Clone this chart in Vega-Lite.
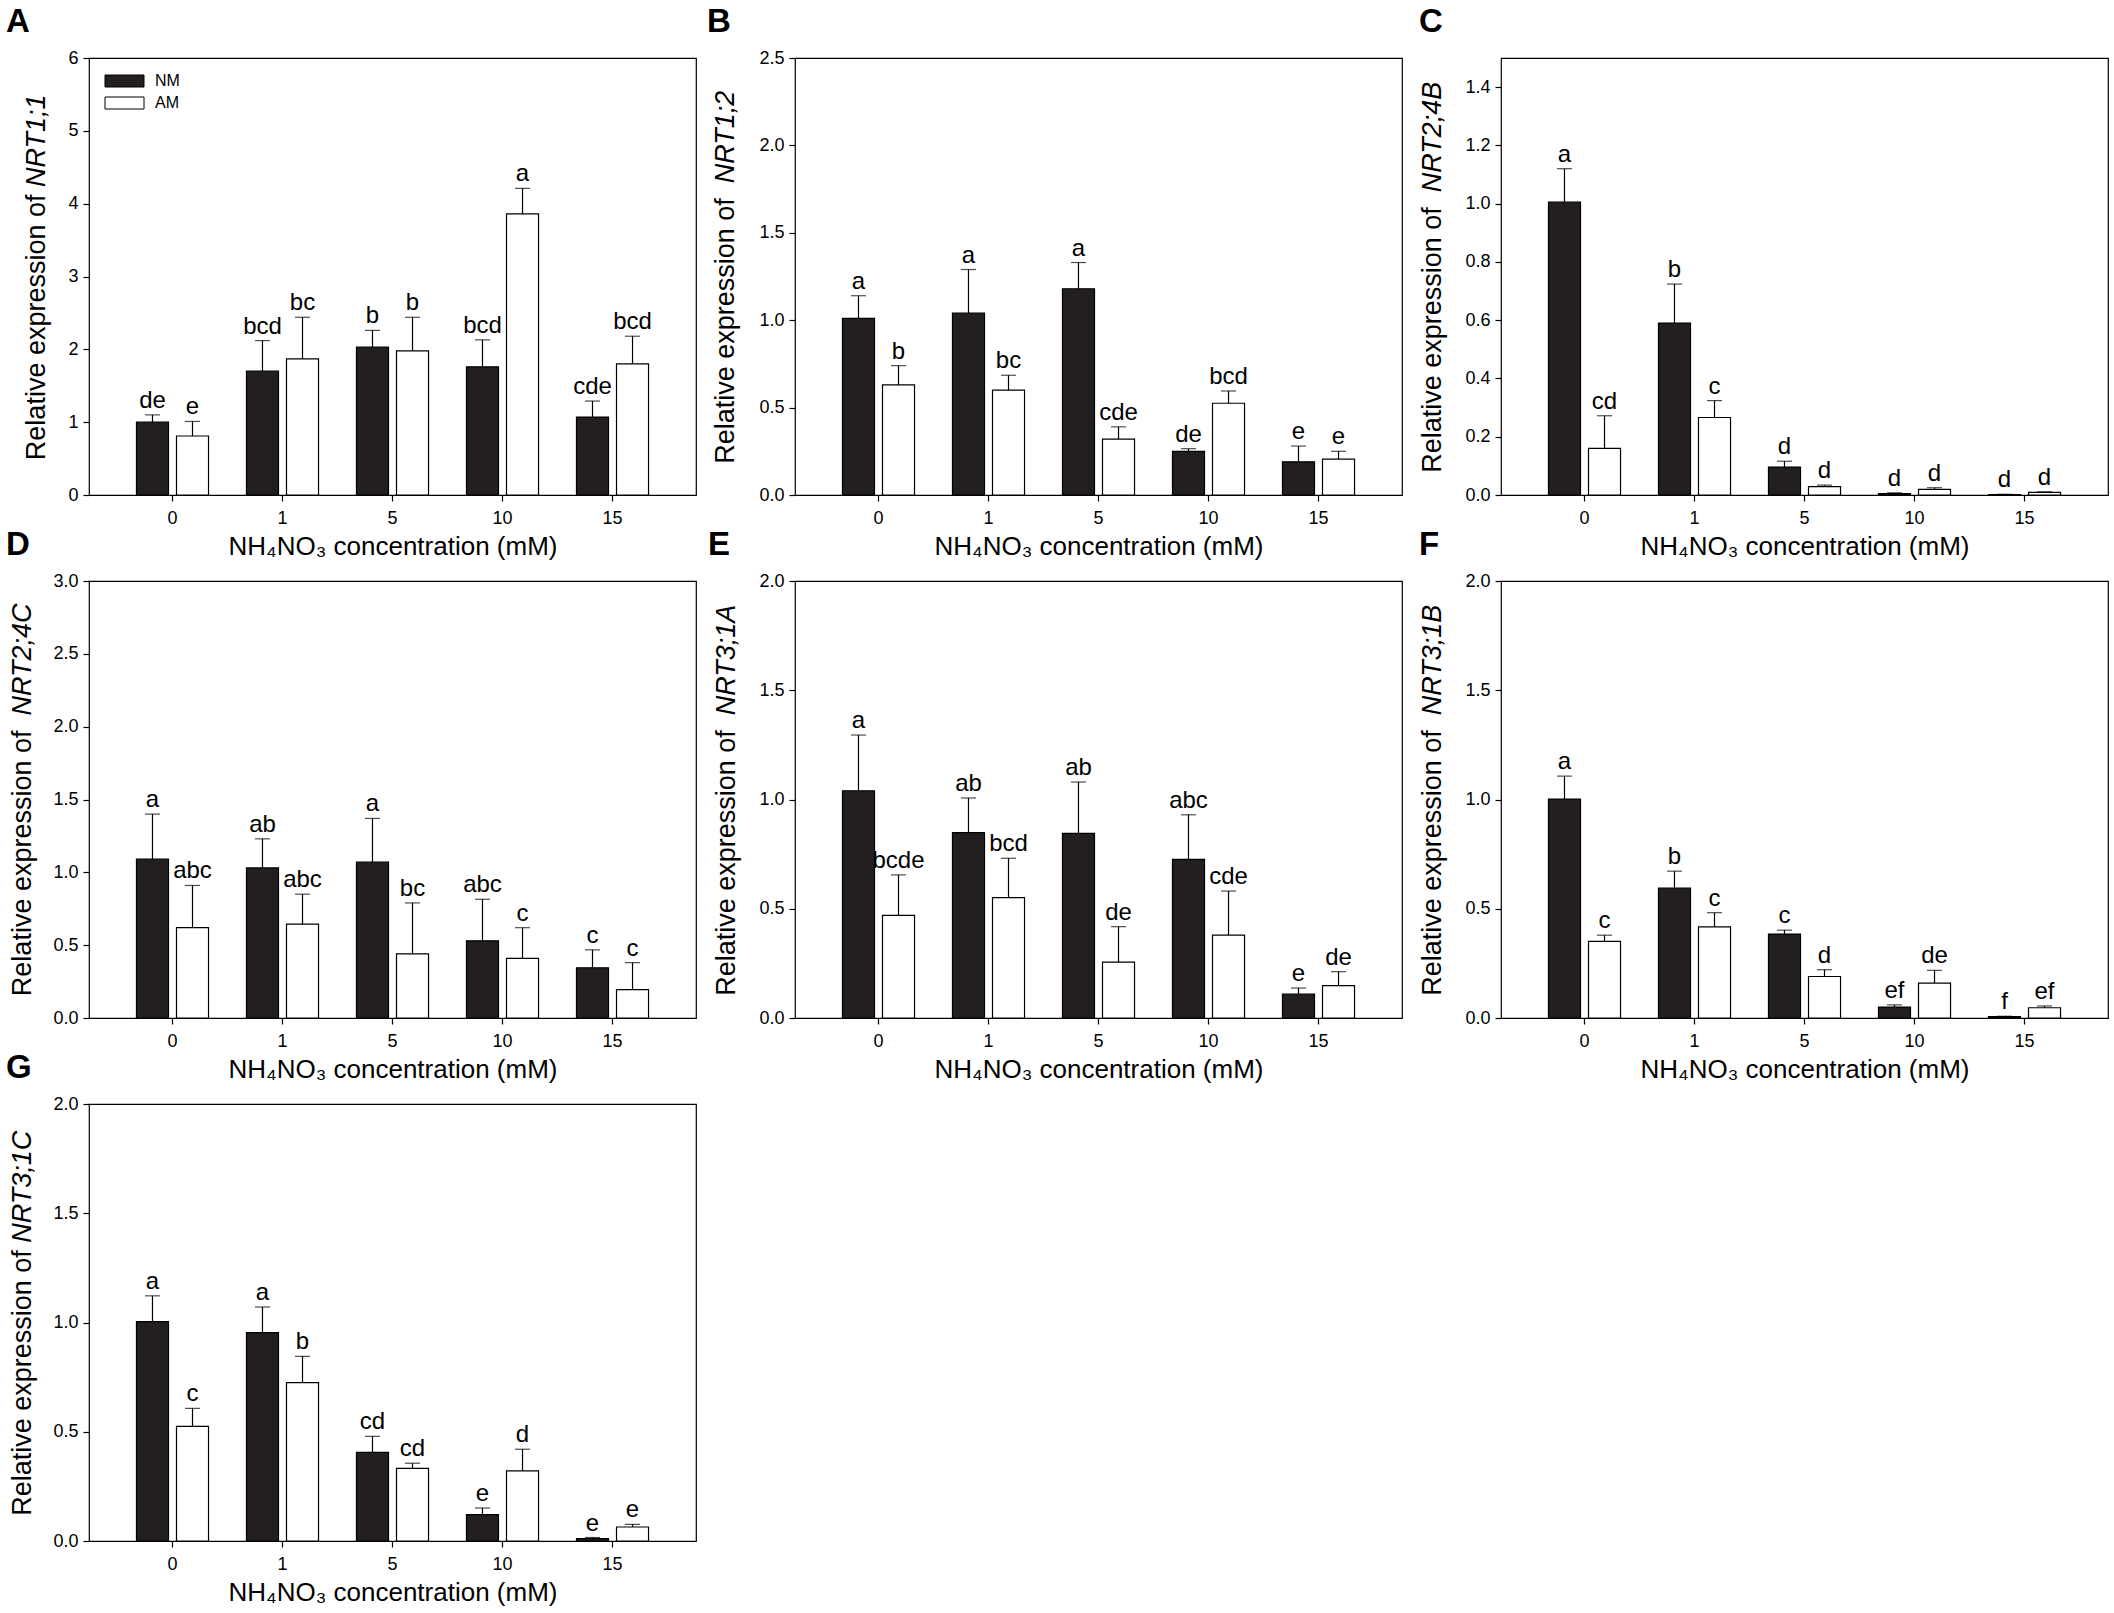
{
  "$schema": "https://vega.github.io/schema/vega-lite/v6.json",
  "background": "white",
  "padding": {"left": 5, "top": 5, "right": 5, "bottom": 5},
  "datasets": {
    "expr": [
      {"panel": "A", "conc": "0", "group": "NM", "value": 1.00, "upper": 1.10, "label": "de"},
      {"panel": "A", "conc": "0", "group": "AM", "value": 0.81, "upper": 1.01, "label": "e"},
      {"panel": "A", "conc": "1", "group": "NM", "value": 1.70, "upper": 2.12, "label": "bcd"},
      {"panel": "A", "conc": "1", "group": "AM", "value": 1.87, "upper": 2.44, "label": "bc"},
      {"panel": "A", "conc": "5", "group": "NM", "value": 2.03, "upper": 2.26, "label": "b"},
      {"panel": "A", "conc": "5", "group": "AM", "value": 1.98, "upper": 2.44, "label": "b"},
      {"panel": "A", "conc": "10", "group": "NM", "value": 1.76, "upper": 2.13, "label": "bcd"},
      {"panel": "A", "conc": "10", "group": "AM", "value": 3.86, "upper": 4.21, "label": "a"},
      {"panel": "A", "conc": "15", "group": "NM", "value": 1.07, "upper": 1.29, "label": "cde"},
      {"panel": "A", "conc": "15", "group": "AM", "value": 1.80, "upper": 2.18, "label": "bcd"},

      {"panel": "B", "conc": "0", "group": "NM", "value": 1.01, "upper": 1.14, "label": "a"},
      {"panel": "B", "conc": "0", "group": "AM", "value": 0.63, "upper": 0.74, "label": "b"},
      {"panel": "B", "conc": "1", "group": "NM", "value": 1.04, "upper": 1.29, "label": "a"},
      {"panel": "B", "conc": "1", "group": "AM", "value": 0.60, "upper": 0.685, "label": "bc"},
      {"panel": "B", "conc": "5", "group": "NM", "value": 1.18, "upper": 1.33, "label": "a"},
      {"panel": "B", "conc": "5", "group": "AM", "value": 0.32, "upper": 0.39, "label": "cde"},
      {"panel": "B", "conc": "10", "group": "NM", "value": 0.25, "upper": 0.265, "label": "de"},
      {"panel": "B", "conc": "10", "group": "AM", "value": 0.525, "upper": 0.595, "label": "bcd"},
      {"panel": "B", "conc": "15", "group": "NM", "value": 0.19, "upper": 0.28, "label": "e"},
      {"panel": "B", "conc": "15", "group": "AM", "value": 0.205, "upper": 0.25, "label": "e"},

      {"panel": "C", "conc": "0", "group": "NM", "value": 1.005, "upper": 1.12, "label": "a"},
      {"panel": "C", "conc": "0", "group": "AM", "value": 0.16, "upper": 0.272, "label": "cd"},
      {"panel": "C", "conc": "1", "group": "NM", "value": 0.59, "upper": 0.724, "label": "b"},
      {"panel": "C", "conc": "1", "group": "AM", "value": 0.266, "upper": 0.324, "label": "c"},
      {"panel": "C", "conc": "5", "group": "NM", "value": 0.096, "upper": 0.116, "label": "d"},
      {"panel": "C", "conc": "5", "group": "AM", "value": 0.029, "upper": 0.034, "label": "d"},
      {"panel": "C", "conc": "10", "group": "NM", "value": 0.005, "upper": 0.0075, "label": "d"},
      {"panel": "C", "conc": "10", "group": "AM", "value": 0.019, "upper": 0.025, "label": "d"},
      {"panel": "C", "conc": "15", "group": "NM", "value": 0.001, "upper": 0.0025, "label": "d"},
      {"panel": "C", "conc": "15", "group": "AM", "value": 0.009, "upper": 0.011, "label": "d"},

      {"panel": "D", "conc": "0", "group": "NM", "value": 1.09, "upper": 1.40, "label": "a"},
      {"panel": "D", "conc": "0", "group": "AM", "value": 0.62, "upper": 0.91, "label": "abc"},
      {"panel": "D", "conc": "1", "group": "NM", "value": 1.03, "upper": 1.23, "label": "ab"},
      {"panel": "D", "conc": "1", "group": "AM", "value": 0.645, "upper": 0.85, "label": "abc"},
      {"panel": "D", "conc": "5", "group": "NM", "value": 1.07, "upper": 1.37, "label": "a"},
      {"panel": "D", "conc": "5", "group": "AM", "value": 0.44, "upper": 0.79, "label": "bc"},
      {"panel": "D", "conc": "10", "group": "NM", "value": 0.53, "upper": 0.815, "label": "abc"},
      {"panel": "D", "conc": "10", "group": "AM", "value": 0.41, "upper": 0.62, "label": "c"},
      {"panel": "D", "conc": "15", "group": "NM", "value": 0.345, "upper": 0.468, "label": "c"},
      {"panel": "D", "conc": "15", "group": "AM", "value": 0.195, "upper": 0.38, "label": "c"},

      {"panel": "E", "conc": "0", "group": "NM", "value": 1.04, "upper": 1.295, "label": "a"},
      {"panel": "E", "conc": "0", "group": "AM", "value": 0.47, "upper": 0.655, "label": "bcde"},
      {"panel": "E", "conc": "1", "group": "NM", "value": 0.848, "upper": 1.007, "label": "ab"},
      {"panel": "E", "conc": "1", "group": "AM", "value": 0.551, "upper": 0.731, "label": "bcd"},
      {"panel": "E", "conc": "5", "group": "NM", "value": 0.845, "upper": 1.08, "label": "ab"},
      {"panel": "E", "conc": "5", "group": "AM", "value": 0.256, "upper": 0.418, "label": "de"},
      {"panel": "E", "conc": "10", "group": "NM", "value": 0.726, "upper": 0.93, "label": "abc"},
      {"panel": "E", "conc": "10", "group": "AM", "value": 0.379, "upper": 0.581, "label": "cde"},
      {"panel": "E", "conc": "15", "group": "NM", "value": 0.109, "upper": 0.137, "label": "e"},
      {"panel": "E", "conc": "15", "group": "AM", "value": 0.148, "upper": 0.212, "label": "de"},

      {"panel": "F", "conc": "0", "group": "NM", "value": 1.002, "upper": 1.107, "label": "a"},
      {"panel": "F", "conc": "0", "group": "AM", "value": 0.351, "upper": 0.379, "label": "c"},
      {"panel": "F", "conc": "1", "group": "NM", "value": 0.594, "upper": 0.672, "label": "b"},
      {"panel": "F", "conc": "1", "group": "AM", "value": 0.417, "upper": 0.482, "label": "c"},
      {"panel": "F", "conc": "5", "group": "NM", "value": 0.384, "upper": 0.402, "label": "c"},
      {"panel": "F", "conc": "5", "group": "AM", "value": 0.19, "upper": 0.221, "label": "d"},
      {"panel": "F", "conc": "10", "group": "NM", "value": 0.05, "upper": 0.06, "label": "ef"},
      {"panel": "F", "conc": "10", "group": "AM", "value": 0.16, "upper": 0.218, "label": "de"},
      {"panel": "F", "conc": "15", "group": "NM", "value": 0.006, "upper": 0.008, "label": "f"},
      {"panel": "F", "conc": "15", "group": "AM", "value": 0.047, "upper": 0.055, "label": "ef"},

      {"panel": "G", "conc": "0", "group": "NM", "value": 1.004, "upper": 1.122, "label": "a"},
      {"panel": "G", "conc": "0", "group": "AM", "value": 0.525, "upper": 0.607, "label": "c"},
      {"panel": "G", "conc": "1", "group": "NM", "value": 0.954, "upper": 1.071, "label": "a"},
      {"panel": "G", "conc": "1", "group": "AM", "value": 0.725, "upper": 0.845, "label": "b"},
      {"panel": "G", "conc": "5", "group": "NM", "value": 0.406, "upper": 0.479, "label": "cd"},
      {"panel": "G", "conc": "5", "group": "AM", "value": 0.332, "upper": 0.356, "label": "cd"},
      {"panel": "G", "conc": "10", "group": "NM", "value": 0.121, "upper": 0.151, "label": "e"},
      {"panel": "G", "conc": "10", "group": "AM", "value": 0.321, "upper": 0.42, "label": "d"},
      {"panel": "G", "conc": "15", "group": "NM", "value": 0.011, "upper": 0.016, "label": "e"},
      {"panel": "G", "conc": "15", "group": "AM", "value": 0.064, "upper": 0.076, "label": "e"}
    ]
  },
  "data": {"name": "expr"},
  "columns": 3,
  "bounds": "flush",
  "spacing": {"row": 86, "column": 99},
  "resolve": {"scale": {"color": "independent"}, "legend": {"color": "independent"}},
  "concat": [
    {
      "title": {"text": "A", "dx": -83, "offset": 10},
      "width": 607, "height": 437,
      "transform": [{"filter": "datum.panel === 'A'"}],
      "encoding": {
        "x": {"field": "conc", "type": "ordinal", "sort": ["0", "1", "5", "10", "15"], "scale": {"paddingInner": 0.345, "paddingOuter": 0.4315}, "axis": {"title": "NH₄NO₃ concentration (mM)"}},
        "xOffset": {"field": "group", "type": "nominal", "sort": ["NM", "AM"], "scale": {"paddingInner": 0.2, "paddingOuter": 0}}
      },
      "layer": [
        {
          "mark": {"type": "bar", "stroke": "black", "strokeWidth": 1.2},
          "encoding": {
            "y": {"field": "value", "type": "quantitative", "scale": {"domain": [0, 6], "nice": false},
              "axis": {"orient": "left", "title": "Relative expression of", "values": [0, 1, 2, 3, 4, 5, 6], "format": "d", "titleX": -45, "titleY": 136, "titleAlign": "right"}},
            "color": {"field": "group", "type": "nominal", "sort": ["NM", "AM"], "scale": {"domain": ["NM", "AM"], "range": ["#231f20", "#ffffff"]},
              "legend": {"orient": "none", "legendX": 27.5, "legendY": 15, "padding": 0, "title": null, "symbolType": "M-3.25,-1H3.25V1H-3.25Z", "symbolSize": 144, "symbolStrokeColor": "black", "symbolStrokeWidth": 1, "labelFontSize": 16, "labelOffset": 22.5, "rowPadding": 6, "labelColor": "black"}}
          }
        },
        {
          "mark": {"type": "rule", "color": "black", "strokeWidth": 1.2},
          "encoding": {"y": {"field": "value", "type": "quantitative", "scale": {"domain": [0, 6], "nice": false}, "axis": null}, "y2": {"field": "upper"}}
        },
        {
          "mark": {"type": "tick", "color": "black", "size": 15, "thickness": 1.2},
          "encoding": {"y": {"field": "upper", "type": "quantitative", "scale": {"domain": [0, 6], "nice": false}, "axis": null}}
        },
        {
          "mark": {"type": "text", "fontSize": 24, "baseline": "alphabetic", "dy": -7, "color": "black"},
          "encoding": {
            "y": {"field": "upper", "type": "quantitative", "scale": {"domain": [0, 6], "nice": false},
              "axis": {"orient": "left", "title": "NRT1;1", "titleFontStyle": "italic", "labels": false, "ticks": false, "titleX": -45, "titleY": 128.5, "titleAlign": "left"}},
            "text": {"field": "label"}
          }
        }
      ],
      "resolve": {"axis": {"y": "independent"}}
    },
    {
      "title": {"text": "B", "dx": -88, "offset": 10},
      "width": 607, "height": 437,
      "transform": [{"filter": "datum.panel === 'B'"}],
      "encoding": {
        "x": {"field": "conc", "type": "ordinal", "sort": ["0", "1", "5", "10", "15"], "scale": {"paddingInner": 0.345, "paddingOuter": 0.4315}, "axis": {"title": "NH₄NO₃ concentration (mM)"}},
        "xOffset": {"field": "group", "type": "nominal", "sort": ["NM", "AM"], "scale": {"paddingInner": 0.2, "paddingOuter": 0}}
      },
      "layer": [
        {
          "mark": {"type": "bar", "stroke": "black", "strokeWidth": 1.2},
          "encoding": {
            "y": {"field": "value", "type": "quantitative", "scale": {"domain": [0, 2.5], "nice": false},
              "axis": {"orient": "left", "title": "Relative expression of", "values": [0, 0.5, 1, 1.5, 2, 2.5], "format": ".1f", "titleX": -62, "titleY": 139.7, "titleAlign": "right"}},
            "color": {"field": "group", "type": "nominal", "sort": ["NM", "AM"], "scale": {"domain": ["NM", "AM"], "range": ["#231f20", "#ffffff"]}, "legend": null}
          }
        },
        {
          "mark": {"type": "rule", "color": "black", "strokeWidth": 1.2},
          "encoding": {"y": {"field": "value", "type": "quantitative", "scale": {"domain": [0, 2.5], "nice": false}, "axis": null}, "y2": {"field": "upper"}}
        },
        {
          "mark": {"type": "tick", "color": "black", "size": 15, "thickness": 1.2},
          "encoding": {"y": {"field": "upper", "type": "quantitative", "scale": {"domain": [0, 2.5], "nice": false}, "axis": null}}
        },
        {
          "mark": {"type": "text", "fontSize": 24, "baseline": "alphabetic", "dy": -7, "color": "black"},
          "encoding": {
            "y": {"field": "upper", "type": "quantitative", "scale": {"domain": [0, 2.5], "nice": false},
              "axis": {"orient": "left", "title": "NRT1;2", "titleFontStyle": "italic", "labels": false, "ticks": false, "titleX": -62, "titleY": 124.7, "titleAlign": "left"}},
            "text": {"field": "label"}
          }
        }
      ],
      "resolve": {"axis": {"y": "independent"}}
    },
    {
      "title": {"text": "C", "dx": -82, "offset": 19},
      "width": 607, "height": 437,
      "transform": [{"filter": "datum.panel === 'C'"}],
      "encoding": {
        "x": {"field": "conc", "type": "ordinal", "sort": ["0", "1", "5", "10", "15"], "scale": {"paddingInner": 0.345, "paddingOuter": 0.4315}, "axis": {"title": "NH₄NO₃ concentration (mM)"}},
        "xOffset": {"field": "group", "type": "nominal", "sort": ["NM", "AM"], "scale": {"paddingInner": 0.2, "paddingOuter": 0}}
      },
      "layer": [
        {
          "mark": {"type": "bar", "stroke": "black", "strokeWidth": 1.2},
          "encoding": {
            "y": {"field": "value", "type": "quantitative", "scale": {"domain": [0, 1.5], "nice": false},
              "axis": {"orient": "left", "title": "Relative expression of", "values": [0, 0.2, 0.4, 0.6, 0.8, 1, 1.2, 1.4], "format": ".1f", "titleX": -61, "titleY": 148.7, "titleAlign": "right"}},
            "color": {"field": "group", "type": "nominal", "sort": ["NM", "AM"], "scale": {"domain": ["NM", "AM"], "range": ["#231f20", "#ffffff"]}, "legend": null}
          }
        },
        {
          "mark": {"type": "rule", "color": "black", "strokeWidth": 1.2},
          "encoding": {"y": {"field": "value", "type": "quantitative", "scale": {"domain": [0, 1.5], "nice": false}, "axis": null}, "y2": {"field": "upper"}}
        },
        {
          "mark": {"type": "tick", "color": "black", "size": 15, "thickness": 1.2},
          "encoding": {"y": {"field": "upper", "type": "quantitative", "scale": {"domain": [0, 1.5], "nice": false}, "axis": null}}
        },
        {
          "mark": {"type": "text", "fontSize": 24, "baseline": "alphabetic", "dy": -7, "color": "black"},
          "encoding": {
            "y": {"field": "upper", "type": "quantitative", "scale": {"domain": [0, 1.5], "nice": false},
              "axis": {"orient": "left", "title": "NRT2;4B", "titleFontStyle": "italic", "labels": false, "ticks": false, "titleX": -61, "titleY": 133.7, "titleAlign": "left"}},
            "text": {"field": "label"}
          }
        }
      ],
      "resolve": {"axis": {"y": "independent"}}
    },
    {
      "title": {"text": "D", "dx": -83, "offset": 10},
      "width": 607, "height": 437,
      "transform": [{"filter": "datum.panel === 'D'"}],
      "encoding": {
        "x": {"field": "conc", "type": "ordinal", "sort": ["0", "1", "5", "10", "15"], "scale": {"paddingInner": 0.345, "paddingOuter": 0.4315}, "axis": {"title": "NH₄NO₃ concentration (mM)"}},
        "xOffset": {"field": "group", "type": "nominal", "sort": ["NM", "AM"], "scale": {"paddingInner": 0.2, "paddingOuter": 0}}
      },
      "layer": [
        {
          "mark": {"type": "bar", "stroke": "black", "strokeWidth": 1.2},
          "encoding": {
            "y": {"field": "value", "type": "quantitative", "scale": {"domain": [0, 3], "nice": false},
              "axis": {"orient": "left", "title": "Relative expression of", "values": [0, 0.5, 1, 1.5, 2, 2.5, 3], "format": ".1f", "titleX": -59, "titleY": 149, "titleAlign": "right"}},
            "color": {"field": "group", "type": "nominal", "sort": ["NM", "AM"], "scale": {"domain": ["NM", "AM"], "range": ["#231f20", "#ffffff"]}, "legend": null}
          }
        },
        {
          "mark": {"type": "rule", "color": "black", "strokeWidth": 1.2},
          "encoding": {"y": {"field": "value", "type": "quantitative", "scale": {"domain": [0, 3], "nice": false}, "axis": null}, "y2": {"field": "upper"}}
        },
        {
          "mark": {"type": "tick", "color": "black", "size": 15, "thickness": 1.2},
          "encoding": {"y": {"field": "upper", "type": "quantitative", "scale": {"domain": [0, 3], "nice": false}, "axis": null}}
        },
        {
          "mark": {"type": "text", "fontSize": 24, "baseline": "alphabetic", "dy": -7, "color": "black"},
          "encoding": {
            "y": {"field": "upper", "type": "quantitative", "scale": {"domain": [0, 3], "nice": false},
              "axis": {"orient": "left", "title": "NRT2;4C", "titleFontStyle": "italic", "labels": false, "ticks": false, "titleX": -59, "titleY": 134, "titleAlign": "left"}},
            "text": {"field": "label"}
          }
        }
      ],
      "resolve": {"axis": {"y": "independent"}}
    },
    {
      "title": {"text": "E", "dx": -87, "offset": 10},
      "width": 607, "height": 437,
      "transform": [{"filter": "datum.panel === 'E'"}],
      "encoding": {
        "x": {"field": "conc", "type": "ordinal", "sort": ["0", "1", "5", "10", "15"], "scale": {"paddingInner": 0.345, "paddingOuter": 0.4315}, "axis": {"title": "NH₄NO₃ concentration (mM)"}},
        "xOffset": {"field": "group", "type": "nominal", "sort": ["NM", "AM"], "scale": {"paddingInner": 0.2, "paddingOuter": 0}}
      },
      "layer": [
        {
          "mark": {"type": "bar", "stroke": "black", "strokeWidth": 1.2},
          "encoding": {
            "y": {"field": "value", "type": "quantitative", "scale": {"domain": [0, 2], "nice": false},
              "axis": {"orient": "left", "title": "Relative expression of", "values": [0, 0.5, 1, 1.5, 2], "format": ".1f", "titleX": -61, "titleY": 148.7, "titleAlign": "right"}},
            "color": {"field": "group", "type": "nominal", "sort": ["NM", "AM"], "scale": {"domain": ["NM", "AM"], "range": ["#231f20", "#ffffff"]}, "legend": null}
          }
        },
        {
          "mark": {"type": "rule", "color": "black", "strokeWidth": 1.2},
          "encoding": {"y": {"field": "value", "type": "quantitative", "scale": {"domain": [0, 2], "nice": false}, "axis": null}, "y2": {"field": "upper"}}
        },
        {
          "mark": {"type": "tick", "color": "black", "size": 15, "thickness": 1.2},
          "encoding": {"y": {"field": "upper", "type": "quantitative", "scale": {"domain": [0, 2], "nice": false}, "axis": null}}
        },
        {
          "mark": {"type": "text", "fontSize": 24, "baseline": "alphabetic", "dy": -7, "color": "black"},
          "encoding": {
            "y": {"field": "upper", "type": "quantitative", "scale": {"domain": [0, 2], "nice": false},
              "axis": {"orient": "left", "title": "NRT3;1A", "titleFontStyle": "italic", "labels": false, "ticks": false, "titleX": -61, "titleY": 133.7, "titleAlign": "left"}},
            "text": {"field": "label"}
          }
        }
      ],
      "resolve": {"axis": {"y": "independent"}}
    },
    {
      "title": {"text": "F", "dx": -82, "offset": 10},
      "width": 607, "height": 437,
      "transform": [{"filter": "datum.panel === 'F'"}],
      "encoding": {
        "x": {"field": "conc", "type": "ordinal", "sort": ["0", "1", "5", "10", "15"], "scale": {"paddingInner": 0.345, "paddingOuter": 0.4315}, "axis": {"title": "NH₄NO₃ concentration (mM)"}},
        "xOffset": {"field": "group", "type": "nominal", "sort": ["NM", "AM"], "scale": {"paddingInner": 0.2, "paddingOuter": 0}}
      },
      "layer": [
        {
          "mark": {"type": "bar", "stroke": "black", "strokeWidth": 1.2},
          "encoding": {
            "y": {"field": "value", "type": "quantitative", "scale": {"domain": [0, 2], "nice": false},
              "axis": {"orient": "left", "title": "Relative expression of", "values": [0, 0.5, 1, 1.5, 2], "format": ".1f", "titleX": -61, "titleY": 148.7, "titleAlign": "right"}},
            "color": {"field": "group", "type": "nominal", "sort": ["NM", "AM"], "scale": {"domain": ["NM", "AM"], "range": ["#231f20", "#ffffff"]}, "legend": null}
          }
        },
        {
          "mark": {"type": "rule", "color": "black", "strokeWidth": 1.2},
          "encoding": {"y": {"field": "value", "type": "quantitative", "scale": {"domain": [0, 2], "nice": false}, "axis": null}, "y2": {"field": "upper"}}
        },
        {
          "mark": {"type": "tick", "color": "black", "size": 15, "thickness": 1.2},
          "encoding": {"y": {"field": "upper", "type": "quantitative", "scale": {"domain": [0, 2], "nice": false}, "axis": null}}
        },
        {
          "mark": {"type": "text", "fontSize": 24, "baseline": "alphabetic", "dy": -7, "color": "black"},
          "encoding": {
            "y": {"field": "upper", "type": "quantitative", "scale": {"domain": [0, 2], "nice": false},
              "axis": {"orient": "left", "title": "NRT3;1B", "titleFontStyle": "italic", "labels": false, "ticks": false, "titleX": -61, "titleY": 133.7, "titleAlign": "left"}},
            "text": {"field": "label"}
          }
        }
      ],
      "resolve": {"axis": {"y": "independent"}}
    },
    {
      "title": {"text": "G", "dx": -83, "offset": 10},
      "width": 607, "height": 437,
      "transform": [{"filter": "datum.panel === 'G'"}],
      "encoding": {
        "x": {"field": "conc", "type": "ordinal", "sort": ["0", "1", "5", "10", "15"], "scale": {"paddingInner": 0.345, "paddingOuter": 0.4315}, "axis": {"title": "NH₄NO₃ concentration (mM)"}},
        "xOffset": {"field": "group", "type": "nominal", "sort": ["NM", "AM"], "scale": {"paddingInner": 0.2, "paddingOuter": 0}}
      },
      "layer": [
        {
          "mark": {"type": "bar", "stroke": "black", "strokeWidth": 1.2},
          "encoding": {
            "y": {"field": "value", "type": "quantitative", "scale": {"domain": [0, 2], "nice": false},
              "axis": {"orient": "left", "title": "Relative expression of", "values": [0, 0.5, 1, 1.5, 2], "format": ".1f", "titleX": -59, "titleY": 145.7, "titleAlign": "right"}},
            "color": {"field": "group", "type": "nominal", "sort": ["NM", "AM"], "scale": {"domain": ["NM", "AM"], "range": ["#231f20", "#ffffff"]}, "legend": null}
          }
        },
        {
          "mark": {"type": "rule", "color": "black", "strokeWidth": 1.2},
          "encoding": {"y": {"field": "value", "type": "quantitative", "scale": {"domain": [0, 2], "nice": false}, "axis": null}, "y2": {"field": "upper"}}
        },
        {
          "mark": {"type": "tick", "color": "black", "size": 15, "thickness": 1.2},
          "encoding": {"y": {"field": "upper", "type": "quantitative", "scale": {"domain": [0, 2], "nice": false}, "axis": null}}
        },
        {
          "mark": {"type": "text", "fontSize": 24, "baseline": "alphabetic", "dy": -7, "color": "black"},
          "encoding": {
            "y": {"field": "upper", "type": "quantitative", "scale": {"domain": [0, 2], "nice": false},
              "axis": {"orient": "left", "title": "NRT3;1C", "titleFontStyle": "italic", "labels": false, "ticks": false, "titleX": -59, "titleY": 138.2, "titleAlign": "left"}},
            "text": {"field": "label"}
          }
        }
      ],
      "resolve": {"axis": {"y": "independent"}}
    }
  ],
  "config": {
    "font": "Liberation Sans",
    "view": {"stroke": "black", "strokeWidth": 1.2},
    "title": {"anchor": "start", "frame": "group", "fontSize": 33, "fontWeight": "bold", "baseline": "alphabetic", "color": "black"},
    "axis": {"domain": false, "grid": false, "ticks": true, "tickColor": "black", "tickSize": 6, "tickWidth": 1.2, "labelColor": "black", "labelFontSize": 18, "titleColor": "black", "titleFontWeight": "normal"},
    "axisX": {"labelAngle": 0, "labelPadding": 8, "titleFontSize": 26, "titleY": 59, "titleBaseline": "alphabetic"},
    "axisY": {"labelPadding": 5, "titleFontSize": 27, "titleAngle": -90, "titleBaseline": "alphabetic"}
  }
}
